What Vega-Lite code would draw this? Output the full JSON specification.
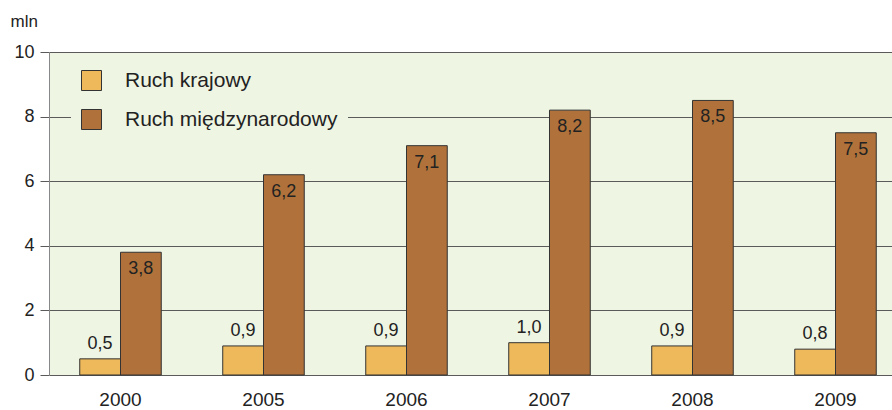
{
  "$schema": "https://vega.github.io/schema/vega-lite/v6.json",
  "autosize": "none",
  "padding": {"left": 49, "top": 52, "right": 0, "bottom": 35},
  "width": 858,
  "height": 323,
  "background": "white",
  "config": {
    "font": "Liberation Sans",
    "view": {"stroke": null, "fill": "#eef5e2"},
    "locale": {"number": {"decimal": ",", "thousands": " ", "grouping": [3], "currency": ["", " zł"]}}
  },
  "data": {
    "values": [
      {"rok": "2000", "typ": "Ruch krajowy", "v": 0.5},
      {"rok": "2000", "typ": "Ruch międzynarodowy", "v": 3.8},
      {"rok": "2005", "typ": "Ruch krajowy", "v": 0.9},
      {"rok": "2005", "typ": "Ruch międzynarodowy", "v": 6.2},
      {"rok": "2006", "typ": "Ruch krajowy", "v": 0.9},
      {"rok": "2006", "typ": "Ruch międzynarodowy", "v": 7.1},
      {"rok": "2007", "typ": "Ruch krajowy", "v": 1.0},
      {"rok": "2007", "typ": "Ruch międzynarodowy", "v": 8.2},
      {"rok": "2008", "typ": "Ruch krajowy", "v": 0.9},
      {"rok": "2008", "typ": "Ruch międzynarodowy", "v": 8.5},
      {"rok": "2009", "typ": "Ruch krajowy", "v": 0.8},
      {"rok": "2009", "typ": "Ruch międzynarodowy", "v": 7.5}
    ]
  },
  "encoding": {
    "x": {
      "field": "rok", "type": "nominal",
      "scale": {"paddingInner": 0.43, "paddingOuter": 0.215},
      "axis": {"title": null, "labelAngle": 0, "ticks": false, "domain": false, "labelFontSize": 19, "labelPadding": 15, "labelColor": "#222"}
    },
    "xOffset": {"field": "typ", "type": "nominal", "sort": ["Ruch krajowy", "Ruch międzynarodowy"]},
    "y": {
      "field": "v", "type": "quantitative",
      "scale": {"domain": [0, 10]},
      "axis": {
        "values": [0, 2, 4, 6, 8, 10], "format": "d",
        "grid": true, "gridColor": "#5a5a5a", "gridWidth": 1,
        "domain": true, "domainColor": "#888", "tickColor": "#5a5a5a", "tickSize": 9,
        "labelFontSize": 18, "labelPadding": 6, "labelColor": "#222",
        "title": "mln", "titleAngle": 0, "titleFontWeight": "normal", "titleFontSize": 17,
        "titleColor": "#222", "titleX": -39, "titleY": -26, "titleAlign": "left", "titleBaseline": "alphabetic"
      }
    }
  },
  "layer": [
    {
      "mark": {"type": "bar", "stroke": "#333", "strokeWidth": 1},
      "encoding": {
        "color": {
          "field": "typ", "type": "nominal",
          "scale": {"domain": ["Ruch krajowy", "Ruch międzynarodowy"], "range": ["#edb95a", "#b0723a"]},
          "legend": {
            "title": null, "orient": "none", "legendX": 22, "legendY": 8,
            "fillColor": "#eef5e2", "padding": 10,
            "symbolType": "square", "symbolSize": 400, "symbolStrokeColor": "#333", "symbolStrokeWidth": 1,
            "labelFontSize": 21, "labelColor": "#222", "labelOffset": 23, "rowPadding": 14, "labelLimit": 320
          }
        }
      }
    },
    {
      "transform": [{"filter": "datum.typ === 'Ruch krajowy'"}],
      "mark": {"type": "text", "baseline": "bottom", "dy": -6, "fontSize": 18, "color": "#222"},
      "encoding": {"text": {"field": "v", "type": "quantitative", "format": ".1f"}}
    },
    {
      "transform": [{"filter": "datum.typ === 'Ruch międzynarodowy'"}],
      "mark": {"type": "text", "baseline": "top", "dy": 8, "fontSize": 18, "color": "#222"},
      "encoding": {"text": {"field": "v", "type": "quantitative", "format": ".1f"}}
    }
  ]
}
